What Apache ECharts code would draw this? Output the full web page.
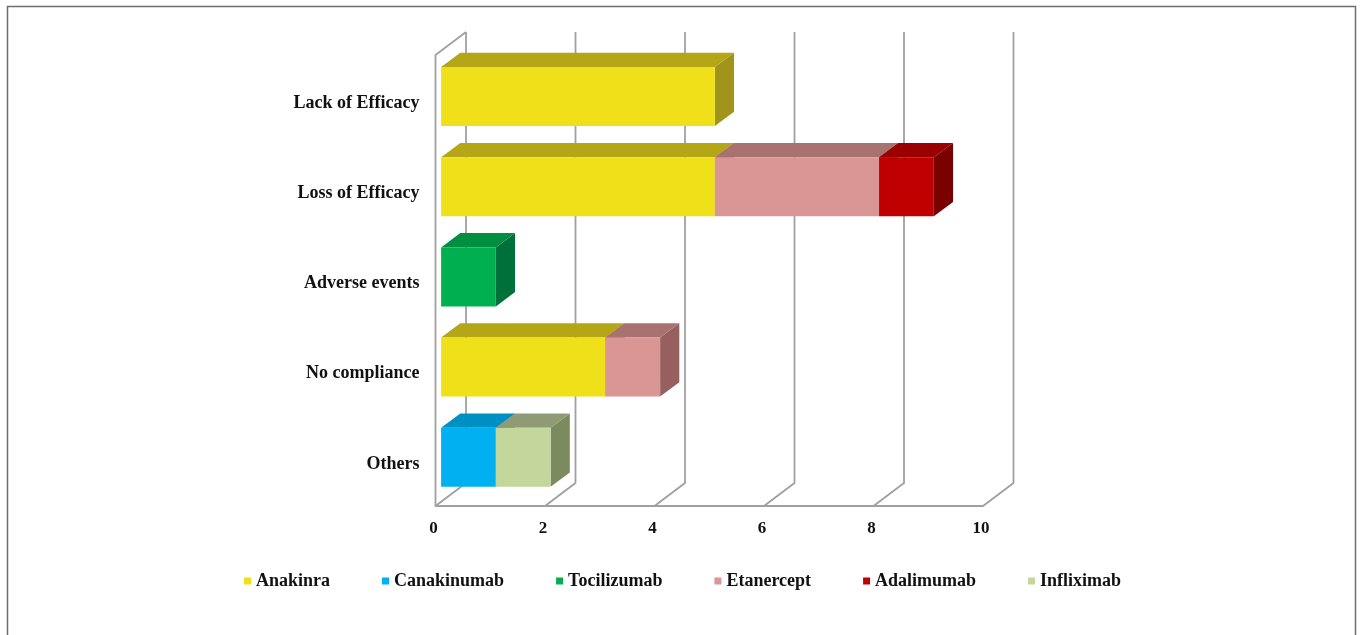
<!DOCTYPE html>
<html>
<head>
<meta charset="utf-8">
<script src="https://cdn.jsdelivr.net/npm/echarts@6/dist/echarts.min.js"></script>
<style>html,body{margin:0;padding:0;background:#fff}#c{width:1360px;height:635px}</style>
</head>
<body>
<div id="c"></div>
<script>
const categories = ['Lack of Efficacy', 'Loss of Efficacy', 'Adverse events', 'No compliance', 'Others'];
const axisTicks = [0, 2, 4, 6, 8, 10];
const anakinra = [5, 5, 0, 3, 0];
const canakinumab = [0, 0, 0, 0, 1];
const tocilizumab = [0, 0, 1, 0, 0];
const etanercept = [0, 3, 0, 1, 0];
const adalimumab = [0, 1, 0, 0, 0];
const infliximab = [0, 0, 0, 0, 1];

const drugs = [
  { name: 'Anakinra', values: anakinra, front: '#f0e01a', top: '#b5a618', side: '#a1941a' },
  { name: 'Canakinumab', values: canakinumab, front: '#00b0f0', top: '#008fc2', side: '#007ca8' },
  { name: 'Tocilizumab', values: tocilizumab, front: '#00b050', top: '#008f41', side: '#00703a' },
  { name: 'Etanercept', values: etanercept, front: '#d99694', top: '#a87271', side: '#96605f' },
  { name: 'Adalimumab', values: adalimumab, front: '#c00000', top: '#9a0000', side: '#7a0000' },
  { name: 'Infliximab', values: infliximab, front: '#c3d69b', top: '#8f9b75', side: '#7c8a60' }
];

const DX = 30.5, DY = -23;           // full depth of the plot box
const BAR_OX = 5.6, BAR_OY = -3.6;   // bar's front face inside that depth
const BAR_DX = 19.2, BAR_DY = -14.3; // bar's own depth
const BAR_H = 59;
const GRID_COLOR = '#a0a0a0';

function wallItem(params, api) {
  const v = api.value(0);
  const cs = params.coordSys;
  const x = api.coord([v, 0])[0];
  const top = cs.y, bottom = cs.y + cs.height;
  const style = { stroke: GRID_COLOR, fill: 'none', lineWidth: 1.8 };
  const children = [{
    type: 'polyline', silent: true, style,
    shape: { points: [[x, bottom], [x + DX, bottom + DY], [x + DX, top + DY]] }
  }];
  if (v === axisTicks[0]) {
    children.push({
      type: 'polyline', silent: true, style,
      shape: { points: [[x, bottom], [x, top], [x + DX, top + DY]] }
    });
  }
  return { type: 'group', children };
}

function barItem(drug) {
  return function (params, api) {
    const cat = api.value(0), start = api.value(1), end = api.value(2);
    const a = api.coord([start, cat]), b = api.coord([end, cat]);
    const dx = BAR_DX, dy = BAR_DY;
    const x0 = a[0] + BAR_OX, x1 = b[0] + BAR_OX;
    const y0 = a[1] + BAR_OY - BAR_H / 2, y1 = y0 + BAR_H;
    return {
      type: 'group',
      children: [
        { type: 'polygon', silent: true, shape: { points: [[x1, y0], [x1 + dx, y0 + dy], [x1 + dx, y1 + dy], [x1, y1]] }, style: { fill: drug.side } },
        { type: 'polygon', silent: true, shape: { points: [[x0, y0], [x0 + dx, y0 + dy], [x1 + dx, y0 + dy], [x1, y0]] }, style: { fill: drug.top } },
        { type: 'rect', silent: true, shape: { x: x0, y: y0, width: x1 - x0, height: y1 - y0 }, style: { fill: drug.front } }
      ]
    };
  };
}

const totals = categories.map(() => 0);
const barSeries = drugs.map(d => {
  const data = [];
  d.values.forEach((val, i) => {
    if (val > 0) {
      data.push([i, totals[i], totals[i] + val]);
      totals[i] += val;
    }
  });
  return {
    type: 'custom', name: d.name, renderItem: barItem(d), data,
    encode: { x: 2, y: 0 }, itemStyle: { color: d.front }, z: 3, clip: false
  };
});

const font = 'Liberation Serif';
const chart = echarts.init(document.getElementById('c'));
chart.setOption({
  animation: false,
  backgroundColor: '#fff',
  grid: { left: 435.5, right: 377, top: 55, bottom: 129 },
  xAxis: {
    type: 'value', min: 0, max: 10, interval: 2,
    splitLine: { show: false },
    axisTick: { show: false },
    axisLine: { show: true, lineStyle: { color: GRID_COLOR, width: 1.8 } },
    axisLabel: { fontFamily: font, fontWeight: 'bold', fontSize: 17, color: '#111', margin: 14, padding: [0, 4, 0, 0] }
  },
  yAxis: {
    type: 'category', data: categories, inverse: true,
    axisLine: { show: false }, axisTick: { show: false }, splitLine: { show: false },
    axisLabel: {
      margin: 16,
      formatter: v => '{a|' + v + '}',
      rich: { a: { fontFamily: font, fontWeight: 'bold', fontSize: 18, color: '#111', padding: [6, 0, 0, 0] } }
    }
  },
  legend: {
    left: 239, top: 567, icon: 'rect', itemWidth: 7, itemHeight: 7, itemGap: 52,
    data: drugs.map(d => d.name), selectedMode: false,
    textStyle: { fontFamily: font, fontWeight: 'bold', fontSize: 18, color: '#111' }
  },
  graphic: [{
    type: 'polyline', silent: true,
    shape: { points: [[7.5, 635], [7.5, 6.5], [1355.5, 6.5], [1355.5, 635]] },
    style: { stroke: '#6e6e6e', fill: 'none', lineWidth: 1.5 }
  }],
  series: [{
    type: 'custom', name: 'walls', renderItem: wallItem, z: 1, clip: false,
    data: axisTicks.map(t => [t, 0]), encode: { x: 0, y: 1 }
  }].concat(barSeries)
});
</script>
</body>
</html>
